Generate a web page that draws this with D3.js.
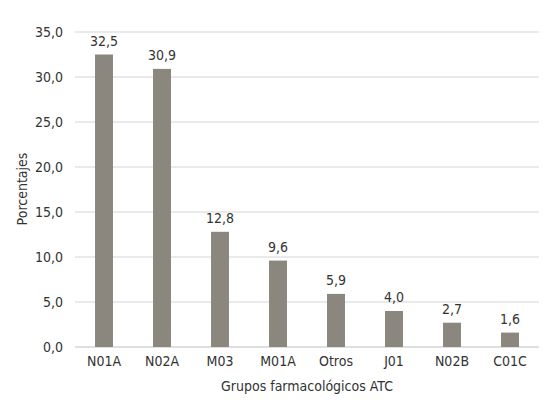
<!DOCTYPE html>
<html><head><meta charset="utf-8">
<script src="https://cdn.jsdelivr.net/npm/d3@7"></script>
<style>
body{margin:0;background:#fff;}
text{font-family:"Liberation Sans Narrow","DejaVu Sans Condensed","Roboto Condensed",sans-serif;fill:#333;}
</style></head>
<body>
<svg id="c" width="550" height="407"></svg>
<script>
const categories = ["N01A","N02A","M03","M01A","Otros","J01","N02B","C01C"];
const values = [32.5,30.9,12.8,9.6,5.9,4.0,2.7,1.6];
const yTicks = [0,5,10,15,20,25,30,35];
const xTitle = "Grupos farmacológicos ATC";
const yTitle = "Porcentajes";

const svg = d3.select("#c");
const fmt = v => v.toFixed(1).replace(".", ",");
const x = d3.scaleBand().domain(categories).range([75, 539]).paddingInner(0.69).paddingOuter(0.345);
const y = d3.scaleLinear().domain([0, 35]).range([347, 32]);

// gridlines
svg.append("g").selectAll("line").data(yTicks).join("line")
  .attr("x1", 75).attr("x2", 539)
  .attr("y1", d => y(d)).attr("y2", d => y(d))
  .attr("stroke", d => d === 0 ? "#d4d4d4" : "#e3e3e3").attr("stroke-width", 1.5);

// y axis labels
const yAxis = svg.append("g").attr("transform", "translate(75,0)")
  .call(d3.axisLeft(y).tickValues(yTicks).tickFormat(fmt).tickSize(0).tickPadding(12));
yAxis.select(".domain").remove();
yAxis.selectAll("text").attr("font-size", 14).attr("fill", "#333")
  .style("font-family", '"Liberation Sans Narrow","DejaVu Sans Condensed",sans-serif');

// bars
svg.append("g").selectAll("rect").data(values).join("rect")
  .attr("x", (d, i) => x(categories[i]))
  .attr("width", x.bandwidth())
  .attr("y", d => y(d))
  .attr("height", d => y(0) - y(d))
  .attr("fill", "#8c877e");

// value labels
svg.append("g").selectAll("text").data(values).join("text")
  .attr("x", (d, i) => x(categories[i]) + x.bandwidth() / 2)
  .attr("y", d => y(d) - 9)
  .attr("text-anchor", "middle").attr("font-size", 14)
  .text(fmt);

// x axis labels
const xAxis = svg.append("g").attr("transform", "translate(0,347)")
  .call(d3.axisBottom(x).tickSize(0).tickPadding(9));
xAxis.select(".domain").remove();
xAxis.selectAll("text").attr("font-size", 14).attr("fill", "#333")
  .style("font-family", '"Liberation Sans Narrow","DejaVu Sans Condensed",sans-serif');

// titles
svg.append("text").attr("x", 307).attr("y", 391).attr("text-anchor", "middle")
  .attr("font-size", 14).text(xTitle);
svg.append("text").attr("transform", "translate(27,189) rotate(-90)")
  .attr("text-anchor", "middle").attr("font-size", 14).text(yTitle);
</script>
</body></html>
